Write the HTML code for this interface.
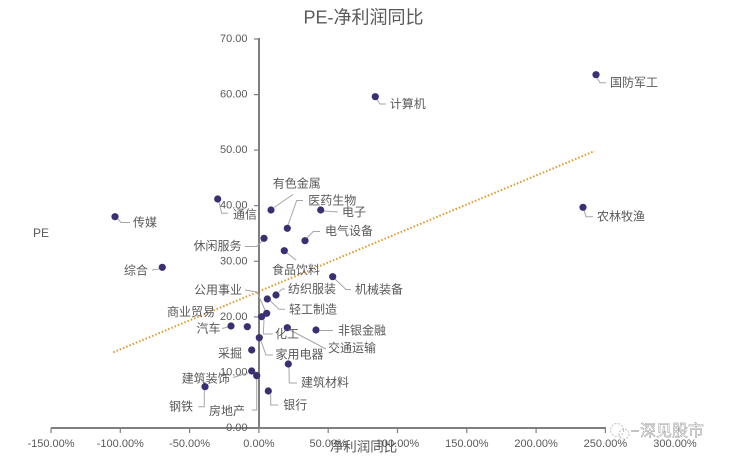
<!DOCTYPE html>
<html><head><meta charset="utf-8"><style>
html,body{margin:0;padding:0;background:#fff;}
svg{display:block;}
text{font-family:"Liberation Sans","Noto Sans CJK SC",sans-serif;fill:#595959;}
.c{font-family:"Liberation Sans","Noto Sans CJK SC",sans-serif;font-size:12px;}
.t{font-size:11px;}
</style></head><body>
<svg width="734" height="463" viewBox="0 0 734 463" xmlns="http://www.w3.org/2000/svg">
<rect width="734" height="463" fill="#fff"/>
<text x="363.5" y="17.5" font-size="18" text-anchor="middle" dominant-baseline="central">PE-净利润同比</text>
<text x="33" y="233" font-size="12" dominant-baseline="central">PE</text>

<!-- trend line -->
<line x1="113.3" y1="352.3" x2="594.7" y2="151" stroke="#E0982A" stroke-width="2" stroke-dasharray="1.5 2"/>

<!-- axes -->
<g stroke="#7f7f7f" stroke-width="2">
<line x1="259" y1="38" x2="259" y2="429"/>
<line x1="51" y1="428" x2="606" y2="428"/>
</g>
<g stroke="#7f7f7f" stroke-width="1.2">
<line x1="254" y1="39" x2="259" y2="39"/>
<line x1="254" y1="94.6" x2="259" y2="94.6"/>
<line x1="254" y1="150.1" x2="259" y2="150.1"/>
<line x1="254" y1="205.7" x2="259" y2="205.7"/>
<line x1="254" y1="261.3" x2="259" y2="261.3"/>
<line x1="254" y1="316.9" x2="259" y2="316.9"/>
<line x1="254" y1="372.4" x2="259" y2="372.4"/>
<line x1="254" y1="428" x2="259" y2="428"/>
<line x1="51" y1="428" x2="51" y2="433"/>
<line x1="120.3" y1="428" x2="120.3" y2="433"/>
<line x1="189.6" y1="428" x2="189.6" y2="433"/>
<line x1="258.9" y1="428" x2="258.9" y2="433"/>
<line x1="328.2" y1="428" x2="328.2" y2="433"/>
<line x1="397.5" y1="428" x2="397.5" y2="433"/>
<line x1="466.8" y1="428" x2="466.8" y2="433"/>
<line x1="536.1" y1="428" x2="536.1" y2="433"/>
<line x1="605.4" y1="428" x2="605.4" y2="433"/>
</g>

<!-- y tick labels -->
<g class="t" text-anchor="end" dominant-baseline="central" font-size="11">
<text x="247.5" y="39">70.00</text>
<text x="247.5" y="94.6">60.00</text>
<text x="247.5" y="150.1">50.00</text>
<text x="247.5" y="205.7">40.00</text>
<text x="247.5" y="261.3">30.00</text>
<text x="247.5" y="316.9">20.00</text>
<text x="247.5" y="372.4">10.00</text>
<text x="247.5" y="428">0.00</text>
</g>
<!-- x tick labels -->
<g text-anchor="middle" dominant-baseline="central" font-size="11">
<text x="51" y="444">-150.00%</text>
<text x="120.3" y="444">-100.00%</text>
<text x="189.6" y="444">-50.00%</text>
<text x="258.9" y="444">0.00%</text>
<text x="328.2" y="444">50.00%</text>
<text x="397.5" y="444">100.00%</text>
<text x="466.8" y="444">150.00%</text>
<text x="536.1" y="444">200.00%</text>
<text x="605.4" y="444">250.00%</text>
<text x="675" y="444">300.00%</text>
</g>
<text x="363.5" y="447" font-size="13.5" text-anchor="middle" dominant-baseline="central">净利润同比</text>

<!-- leader lines -->
<g fill="none" stroke="#a6a6a6" stroke-width="1">
<path d="M118,219 L121,222.5 L130,222.5"/>
<path d="M219,202 L221.7,213.3 L228,213.3"/>
<path d="M274,207.5 L293,194.5"/>
<path d="M288,225 L296.7,200.5 L303,200.5"/>
<path d="M324,211 L338,212"/>
<path d="M307,238 L313.3,231.5 L320,231.5"/>
<path d="M245,246.5 L256.7,246.5 L262,241"/>
<path d="M287,253 L296,260"/>
<path d="M152,270 L159,269"/>
<path d="M335,279 L346,289.5 L351,289.5"/>
<path d="M279,292 L282,289 L285,289"/>
<path d="M270,300.5 L279,309.3 L285,309.3"/>
<path d="M245,290 L257,292 L265,310"/>
<path d="M264,320 L263.3,334 L272.7,334"/>
<path d="M222,328.5 L228,327"/>
<path d="M320,330.5 L333,330.5"/>
<path d="M290,330 L326,349"/>
<path d="M261,341 L266,355 L273,355"/>
<path d="M289,367 L289.3,383 L297,383"/>
<path d="M233,377.5 L248,373"/>
<path d="M256.7,379 L256.7,410 L251.7,410"/>
<path d="M204.3,390 L204.3,406.7 L198.3,406.7"/>
<path d="M270.7,394 L270.7,405 L278.3,405"/>
<path d="M377,99.5 L380,104 L386,104"/>
<path d="M597,77.5 L600,82.7 L606,82.7"/>
<path d="M584,210 L586,216.7 L593,216.7"/>
</g>

<!-- points -->
<g fill="#3b2f73">
<circle cx="115" cy="216.7" r="3.6"/>
<circle cx="217.7" cy="199" r="3.6"/>
<circle cx="271" cy="210" r="3.6"/>
<circle cx="287.3" cy="228.3" r="3.6"/>
<circle cx="320.7" cy="210" r="3.6"/>
<circle cx="305" cy="240.7" r="3.6"/>
<circle cx="264" cy="238.3" r="3.6"/>
<circle cx="284.3" cy="250.7" r="3.6"/>
<circle cx="162.3" cy="267.3" r="3.6"/>
<circle cx="332.7" cy="276.7" r="3.6"/>
<circle cx="276" cy="295" r="3.6"/>
<circle cx="267.3" cy="299" r="3.6"/>
<circle cx="266.7" cy="313.3" r="3.6"/>
<circle cx="261.7" cy="316.7" r="3.6"/>
<circle cx="247.3" cy="326.7" r="3.6"/>
<circle cx="231" cy="326" r="3.6"/>
<circle cx="316" cy="330" r="3.6"/>
<circle cx="287.3" cy="327.7" r="3.6"/>
<circle cx="259.3" cy="337.7" r="3.6"/>
<circle cx="251.7" cy="350" r="3.6"/>
<circle cx="288.3" cy="364" r="3.6"/>
<circle cx="251.7" cy="371" r="3.6"/>
<circle cx="256.7" cy="375.7" r="3.6"/>
<circle cx="205" cy="386.7" r="3.6"/>
<circle cx="268.3" cy="391" r="3.6"/>
<circle cx="375.3" cy="96.7" r="3.6"/>
<circle cx="596" cy="74.7" r="3.6"/>
<circle cx="583" cy="207.3" r="3.6"/>
</g>

<!-- data labels -->
<g class="c" dominant-baseline="central">
<text x="133" y="222.7">传媒</text>
<text x="233" y="214.3">通信</text>
<text x="272.7" y="183.3">有色金属</text>
<text x="308.3" y="200.5">医药生物</text>
<text x="342" y="212">电子</text>
<text x="325" y="231">电气设备</text>
<text x="241.5" y="246" text-anchor="end">休闲服务</text>
<text x="272" y="270">食品饮料</text>
<text x="148" y="270.7" text-anchor="end">综合</text>
<text x="355" y="289.5">机械装备</text>
<text x="288" y="289">纺织服装</text>
<text x="289" y="309.3">轻工制造</text>
<text x="242" y="290" text-anchor="end">公用事业</text>
<text x="215" y="312" text-anchor="end">商业贸易</text>
<text x="275" y="334">化工</text>
<text x="220.5" y="328.5" text-anchor="end">汽车</text>
<text x="338" y="330.7">非银金融</text>
<text x="328" y="348">交通运输</text>
<text x="275.5" y="354.5">家用电器</text>
<text x="242" y="353.5" text-anchor="end">采掘</text>
<text x="301" y="382.3">建筑材料</text>
<text x="181.7" y="378.5">建筑装饰</text>
<text x="245" y="411" text-anchor="end">房地产</text>
<text x="193" y="406.7" text-anchor="end">钢铁</text>
<text x="283.3" y="405">银行</text>
<text x="389.7" y="104">计算机</text>
<text x="610" y="82.7">国防军工</text>
<text x="597" y="216.7">农林牧渔</text>
</g>

<!-- watermark -->
<g>
<circle cx="617" cy="430" r="6.5" fill="none" stroke="#c0c0c0" stroke-width="1" stroke-dasharray="2 1.5"/>
<circle cx="624" cy="434" r="5" fill="none" stroke="#c0c0c0" stroke-width="1" stroke-dasharray="2 1.5"/>
<line x1="631" y1="431" x2="639" y2="431" stroke="#8a8a8a" stroke-width="1"/>
<text x="640" y="431.5" font-size="16" dominant-baseline="central" style="fill:#ffffff;fill-opacity:0.6;stroke:#8c8c8c;stroke-width:0.45px;font-family:'Liberation Sans','Noto Sans CJK SC',sans-serif;">深见股市</text>
</g>
</svg>
</body></html>
